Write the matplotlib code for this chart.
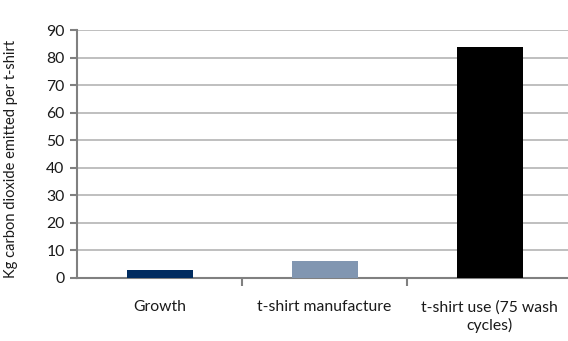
import matplotlib.pyplot as plt

plt.rcParams["font.family"] = ["Lato", "DejaVu Sans"]

categories = ["Growth", "t-shirt manufacture", "t-shirt use (75 wash\ncycles)"]
values = [3, 6, 84]
colors = ["#002b5f", "#8196b1", "#000000"]

fig = plt.figure(figsize=(5.68, 3.41), dpi=100)
ax = fig.add_axes([0.1356, 0.1848, 0.8715, 0.7272])

x = range(len(categories))
ax.bar(x, values, width=0.4, color=colors, zorder=3)

ax.set_xlim(-0.5, 2.5)
ax.set_ylim(0, 90)
ax.set_yticks(range(0, 91, 10))
ax.grid(axis="y", color="#b4b4b4", linewidth=1.2, zorder=0)

ax.set_xticks([0.5, 1.5, 2.5])
ax.set_xticklabels([])
ax.set_xticks(list(x), minor=True)
ax.set_xticklabels(categories, minor=True, fontsize=11.3, color="#1a1a1a",
                   linespacing=1.25)
ax.tick_params(axis="x", which="minor", length=0, pad=16)
ax.tick_params(axis="x", which="major", length=6, width=1.5, color="#808080")
ax.tick_params(axis="y", length=5, width=1.5, color="#808080", labelsize=11.3,
               labelcolor="#1a1a1a", pad=4)

for s in ["top", "right"]:
    ax.spines[s].set_visible(False)
for s in ["left", "bottom"]:
    ax.spines[s].set_color("#808080")
    ax.spines[s].set_linewidth(1.5)

ax.set_ylabel("Kg carbon dioxide emitted per t-shirt", fontsize=10.5, color="#1a1a1a")
ax.yaxis.set_label_coords(-0.12, 0.48)

fig.savefig("out.png", dpi=100)
